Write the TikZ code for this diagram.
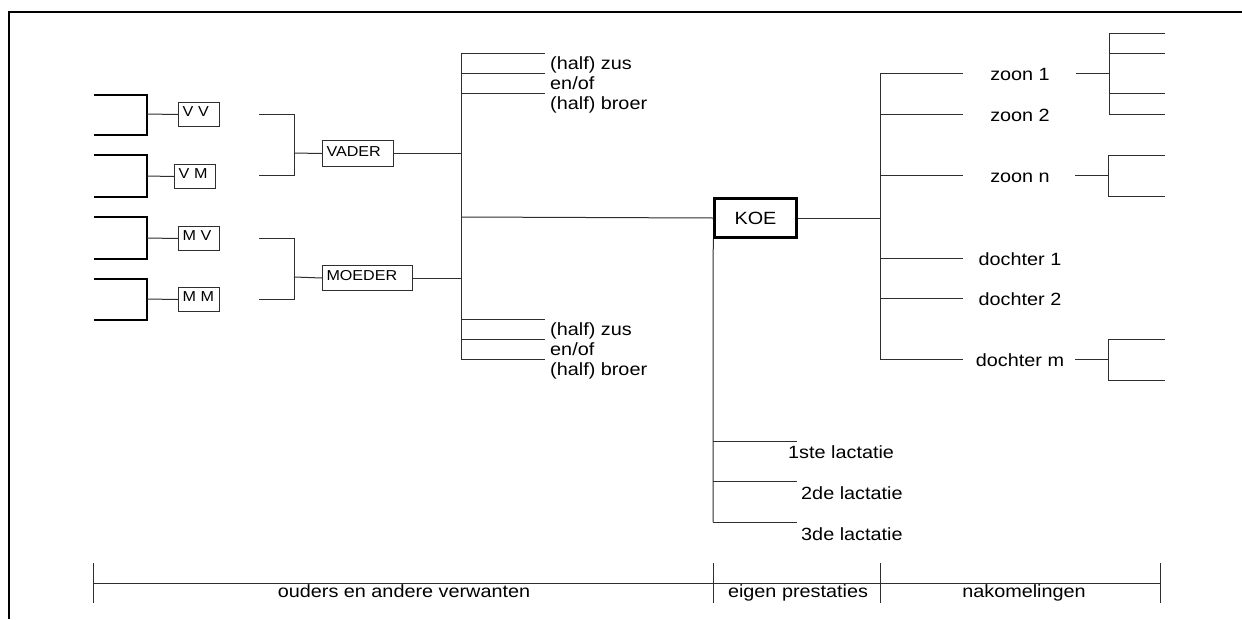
\documentclass[tikz,border=0pt]{standalone}
\usepackage{fontspec}
\setmainfont{Liberation Sans}[FakeStretch=1.12]
\usepackage{xcolor}
\usepackage{tikz}
\usetikzlibrary{positioning, calc}
\definecolor{treeGray}{HTML}{2E2E2E}

\tikzset{
  line/.style={treeGray, line width=1pt},
  thickline/.style={black, line width=2pt},
  smallbox/.style={draw=treeGray, line width=1pt, anchor=north west, font=\fontsize{14.4}{17}\selectfont,
    inner xsep=4pt, inner ysep=2.5pt, text height=11.5pt, text depth=7.5pt, align=left},
  koebox/.style={draw=black, line width=2.5pt, minimum width=82pt, minimum height=39pt, inner sep=0pt},
  lbl/.style={inner sep=0pt, anchor=base west},
  clbl/.style={inner sep=0pt, anchor=base},
}

\begin{document}
\begin{tikzpicture}[x=1pt, y=-1pt, font=\fontsize{17.7}{20}\selectfont]
  \useasboundingbox (0,0) rectangle (1242,619);
  \draw[black, line width=1.5pt] (9,619) -- (9,12) -- (1242,12);

  % grootouders
  \node[smallbox, text width=33pt] (vv) at (178,102) {V V};
  \node[smallbox, text width=33pt] (vm) at (174,164) {V M};
  \node[smallbox, text width=33pt] (mv) at (178,226) {M V};
  \node[smallbox, text width=33pt] (mm) at (178,287) {M M};
  \draw[thickline] (94,95) -- (147,95) -- (147,135) -- (94,135);
  \draw[thickline] (94,155) -- (147,155) -- (147,197) -- (94,197);
  \draw[thickline] (94,217) -- (147,217) -- (147,259) -- (94,259);
  \draw[thickline] (94,279) -- (147,279) -- (147,320) -- (94,320);
  \draw[line] (147,114) -- (vv.west);
  \draw[line] (147,176) -- (vm.west);
  \draw[line] (147,238) -- (mv.west);
  \draw[line] (147,299) -- (mm.west);

  % ouders
  \node[smallbox, text width=63pt, text height=13.5pt] (vader) at (322,140) {VADER};
  \node[smallbox, text width=82pt, text height=12.5pt] (moeder) at (322,265) {MOEDER};
  \draw[line] (259,114) -- (294,114) -- (294,175) -- (259,175);
  \draw[line] (259,238) -- (294,238) -- (294,299) -- (259,299);
  \draw[line] (294,153) -- (vader.west);
  \draw[line] (294,277) -- (moeder.west);

  % broers en zussen
  \coordinate (sib) at (461,217);
  \draw[line] (461,53) -- (461,359);
  \draw[line] (vader.east) -- (vader.east -| sib);
  \draw[line] (moeder.east) -- (moeder.east -| sib);
  \draw[line] (461,53) -- (545,53);
  \draw[line] (461,73) -- (545,73);
  \draw[line] (461,93) -- (545,93);
  \draw[line] (461,319) -- (545,319);
  \draw[line] (461,339) -- (545,339);
  \draw[line] (461,359) -- (545,359);
  \node[lbl] (zusA) at (550,69) {(half) zus};
  \node[lbl] (enofA) at (550,89) {en/of};
  \node[lbl] (broerA) at (550,109) {(half) broer};
  \node[lbl] (zusB) at (550,335) {(half) zus};
  \node[lbl] (enofB) at (550,355) {en/of};
  \node[lbl] (broerB) at (550,375) {(half) broer};

  % koe
  \node[koebox] (koe) at (755.5,218) {KOE};
  \draw[line] (sib) -- (koe.west);

  % nakomelingen
  \coordinate (kid) at (880,218);
  \draw[line] (koe.east) -- (kid);
  \draw[line] (880,73) -- (880,359);
  \draw[line] (880,73) -- (963,73);
  \draw[line] (880,114) -- (963,114);
  \draw[line] (880,175) -- (963,175);
  \draw[line] (880,258) -- (963,258);
  \draw[line] (880,298) -- (963,298);
  \draw[line] (880,359) -- (963,359);
  \node[clbl] (zoon1) at (1020,80.5) {zoon 1};
  \node[clbl] (zoon2) at (1020,121.5) {zoon 2};
  \node[clbl] (zoonn) at (1020,182.5) {zoon n};
  \node[clbl] (dochter1) at (1020,265.5) {dochter 1};
  \node[clbl] (dochter2) at (1020,305.5) {dochter 2};
  \node[clbl] (dochterm) at (1020,366.5) {dochter m};

  % kleinkinderen
  \draw[line] (1076,73) -- (1109,73);
  \draw[line] (1165,33) -- (1109,33) -- (1109,114) -- (1165,114);
  \draw[line] (1109,53) -- (1165,53);
  \draw[line] (1109,93) -- (1165,93);
  \draw[line] (1075,175) -- (1108,175);
  \draw[line] (1165,155) -- (1108,155) -- (1108,196) -- (1165,196);
  \draw[line] (1075,359) -- (1108,359);
  \draw[line] (1165,339) -- (1108,339) -- (1108,380) -- (1165,380);

  % lactaties
  \draw[line] (koe.south west) -- (713,522);
  \draw[line] (713,441) -- (797,441);
  \draw[line] (713,481) -- (797,481);
  \draw[line] (713,522) -- (797,522);
  \node[lbl] (lac1) at (788,458) {1ste lactatie};
  \node[lbl] (lac2) at (801,499) {2de lactatie};
  \node[lbl] (lac3) at (801,540) {3de lactatie};

  % as onderaan
  \draw[line] (93,583) -- (1160,583);
  \draw[line] (93,563) -- (93,603);
  \draw[line] (713,563) -- (713,603);
  \draw[line] (880,563) -- (880,603);
  \draw[line] (1160,563) -- (1160,603);
  \node[clbl] (ouders) at (404,597.5) {ouders en andere verwanten};
  \node[clbl] (eigen) at (798,597.5) {eigen prestaties};
  \node[clbl] (nakom) at (1024,597.5) {nakomelingen};
\end{tikzpicture}
\end{document}
